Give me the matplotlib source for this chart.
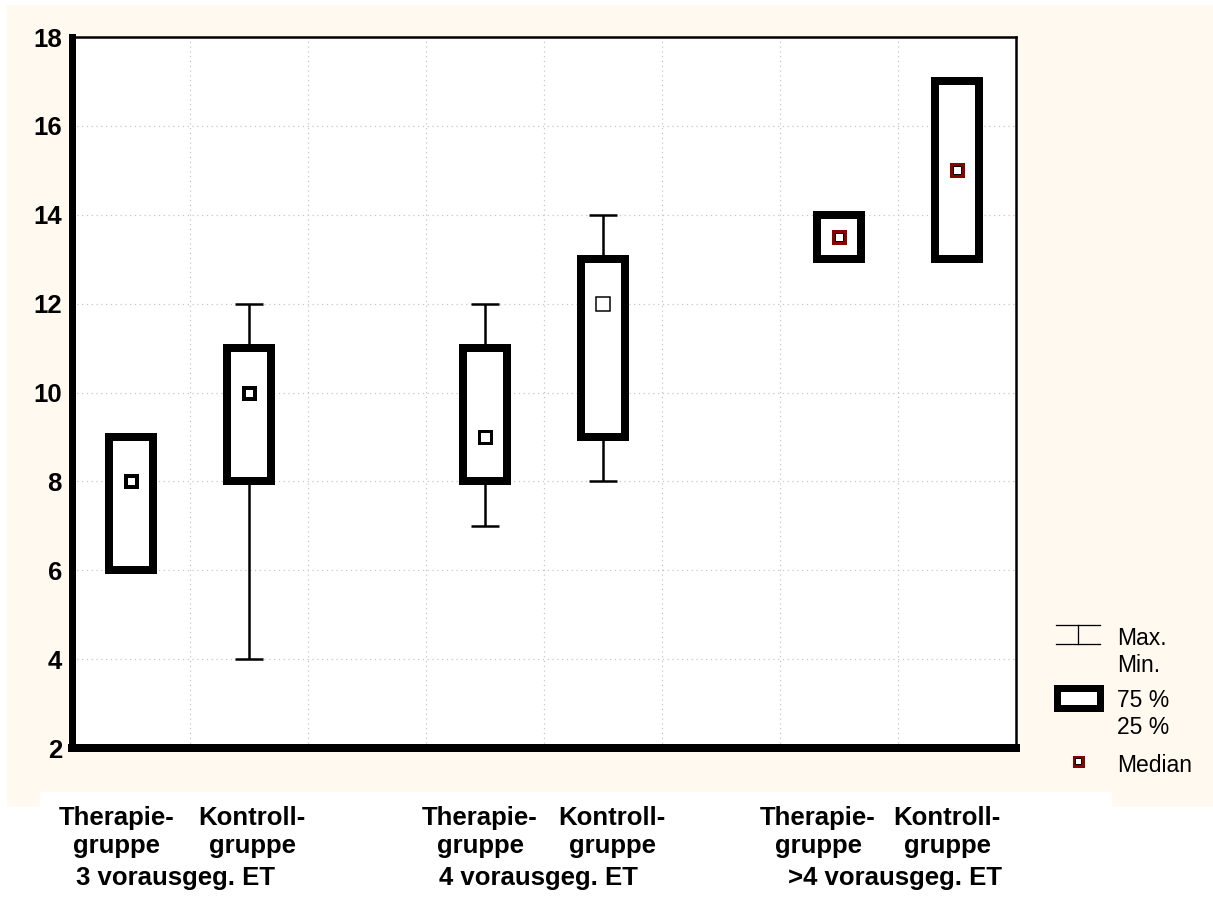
#!/usr/bin/env python3
from __future__ import annotations

import matplotlib

matplotlib.use("Agg")
import matplotlib.pyplot as plt
from matplotlib.axes import Axes
from matplotlib.figure import Figure
from matplotlib.lines import Line2D
from matplotlib.patches import Rectangle

# data
groups = ["3 vorausgeg. ET", "4 vorausgeg. ET", ">4 vorausgeg. ET"]
box_labels = ["Therapie-\ngruppe", "Kontroll-\ngruppe"] * 3
positions = [0.5, 1.5, 3.5, 4.5, 6.5, 7.5]
minimum = [6, 4, 7, 8, 13, 13]
q25 = [6, 8, 8, 9, 13, 13]
median = [8, 10, 9, 12, 13.5, 15]
q75 = [9, 11, 11, 13, 14, 17]
maximum = [9, 12, 12, 14, 14, 17]
y_ticks = [2, 4, 6, 8, 10, 12, 14, 16, 18]

W, H, DPI = 1213, 897, 100
CREAM = "#FFF9EF"
DARK_RED = "#8B0000"
FONT = ["Liberation Sans", "DejaVu Sans"]


def px(n: float) -> float:
    """pixels -> points"""
    return n * 72.0 / DPI


def fig_xy(x: float, y: float) -> tuple[float, float]:
    return x / W, 1.0 - y / H


def draw_background(fig: Figure) -> None:
    x0, y0 = fig_xy(7, 807)
    x1, y1 = fig_xy(W, 5)
    fig.patches.append(Rectangle((x0, y0), x1 - x0, y1 - y0, transform=fig.transFigure,
                                 facecolor=CREAM, edgecolor="none", zorder=-10))
    x0, y0 = fig_xy(40, H)
    x1, y1 = fig_xy(1112, 792)
    fig.patches.append(Rectangle((x0, y0), x1 - x0, y1 - y0, transform=fig.transFigure,
                                 facecolor="white", edgecolor="none", zorder=-9))


def plot_boxes(ax: Axes) -> None:
    box_w = 44 / 118
    cap_w = 28 / 118
    med_edge = ["black", "black", "black", "black", DARK_RED, DARK_RED]
    med_mew = [4, 4, 3, 1.5, 3, 3]
    for i, x in enumerate(positions):
        ax.vlines(x, q75[i], maximum[i], color="black", lw=px(2.5), zorder=2)
        ax.vlines(x, minimum[i], q25[i], color="black", lw=px(2.5), zorder=2)
        ax.hlines([minimum[i], maximum[i]], x - cap_w / 2, x + cap_w / 2,
                  color="black", lw=px(2.5), zorder=2)
        ax.add_patch(Rectangle((x - box_w / 2, q25[i]), box_w, q75[i] - q25[i],
                               facecolor="white", edgecolor="black", lw=px(8),
                               joinstyle="miter", zorder=3))
        ax.plot(x, median[i], marker="s", ms=px(15 - med_mew[i]), mfc="white",
                mec=med_edge[i], mew=px(med_mew[i]), zorder=4)
        if med_edge[i] == DARK_RED:
            ax.plot(x, median[i], marker="s", ms=px(8), mfc="white",
                    mec="black", mew=px(1), zorder=5)


def style_axes(ax: Axes) -> None:
    ax.set_xlim(0, 8)
    ax.set_ylim(2, 18)
    ax.set_facecolor("white")
    ax.set_yticks(y_ticks)
    ax.set_yticklabels([str(v) for v in y_ticks], fontfamily=FONT,
                       fontweight="bold", fontsize=18.5)
    ax.set_xticks(range(1, 8))
    ax.set_xticklabels([])
    ax.tick_params(length=0, pad=px(10))
    ax.grid(True, linestyle=(0, (1, 3)), color="#c4c4c4", lw=px(1.2), zorder=0)
    ax.set_axisbelow(True)
    for side, lw in (("left", 7), ("bottom", 8), ("top", 2.5), ("right", 2.5)):
        ax.spines[side].set_linewidth(px(lw))
        ax.spines[side].set_color("black")
        ax.spines[side].set_capstyle("projecting")


def draw_labels(fig: Figure) -> None:
    label_x = [117, 252, 480, 612, 818, 947]
    for x, label in zip(label_x, box_labels):
        first, second = label.split("\n")
        fig.text(*fig_xy(x, 825), first, ha="center", va="baseline",
                 fontfamily=FONT, fontweight="bold", fontsize=18.5)
        fig.text(*fig_xy(x, 853), second, ha="center", va="baseline",
                 fontfamily=FONT, fontweight="bold", fontsize=18.5)
    for x, group in zip([176, 538, 895], groups):
        fig.text(*fig_xy(x, 885), group, ha="center", va="baseline",
                 fontfamily=FONT, fontweight="bold", fontsize=18.5)


def draw_legend(fig: Figure) -> None:
    tf = fig.transFigure

    def line(xs, ys, lw):
        pts = [fig_xy(x, y) for x, y in zip(xs, ys)]
        fig.lines.append(Line2D([p[0] for p in pts], [p[1] for p in pts],
                                transform=tf, color="black", lw=px(lw)))

    line([1056, 1100], [625, 625], 1.3)
    line([1056, 1100], [644, 644], 1.3)
    line([1078, 1078], [625, 644], 1.3)

    x0, y0 = fig_xy(1056.5, 707.5)
    x1, y1 = fig_xy(1099.5, 687.5)
    fig.patches.append(Rectangle((x0, y0), x1 - x0, y1 - y0, transform=tf,
                                 facecolor="white", edgecolor="black", lw=px(7),
                                 joinstyle="miter"))
    mx, my = fig_xy(1078, 761)
    fig.lines.append(Line2D([mx], [my], transform=tf, marker="s", ms=px(9),
                            mfc="white", mec=DARK_RED, mew=px(3)))
    fig.lines.append(Line2D([mx], [my], transform=tf, marker="s", ms=px(6),
                            mfc="white", mec="black", mew=px(1)))

    for text, y in (("Max.", 645), ("Min.", 672), ("75 %", 707), ("25 %", 734), ("Median", 772)):
        fig.text(*fig_xy(1117, y), text, ha="left", va="baseline",
                 fontfamily=FONT, fontsize=16.5)


def main() -> None:
    fig = plt.figure(figsize=(W / DPI, H / DPI), dpi=DPI, facecolor="white")
    draw_background(fig)
    ax = fig.add_axes([72 / W, 1 - 748 / H, 944 / W, 711 / H])
    style_axes(ax)
    plot_boxes(ax)
    draw_labels(fig)
    draw_legend(fig)
    fig.savefig("out.png", dpi=DPI, facecolor=fig.get_facecolor())
    plt.close(fig)


if __name__ == "__main__":
    main()
